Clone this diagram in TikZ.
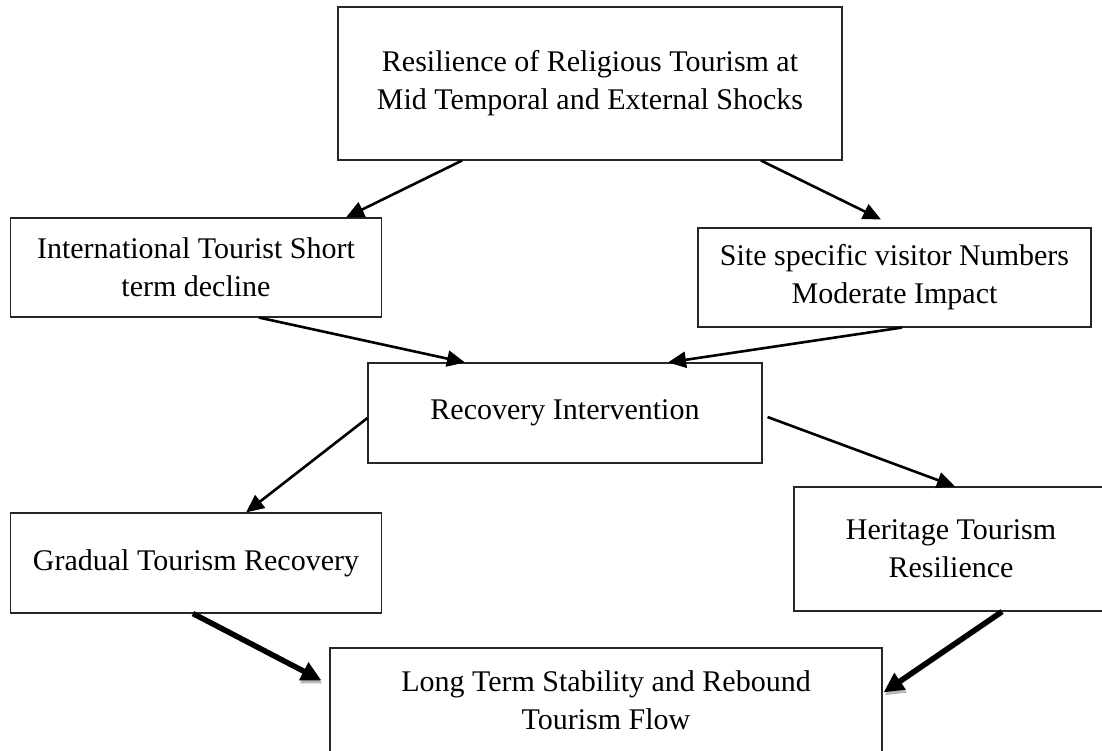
\documentclass[tikz,border=0pt]{standalone}
\usepackage{fontspec}
\setmainfont{Liberation Serif}
\usetikzlibrary{arrows.meta}
\begin{document}
\begin{tikzpicture}[x=1pt,y=-1pt,
  box/.style={draw=black!85, line width=1.1pt, rectangle, inner sep=0pt, align=center,
    font=\fontsize{30}{38}\selectfont},
  thinarrow/.style={line width=2.6pt, -{Triangle[length=18pt,width=16pt]}},
  thickarrow/.style={line width=5.5pt, -{Triangle[length=20pt,width=19pt]},
    preaction={draw=gray!55, transform canvas={xshift=1pt,yshift=-3pt}}}
]
\useasboundingbox[fill=white] (0,0) rectangle (1102,750);

\node[box, minimum width=504pt, minimum height=153pt] (top) at (590,83.5)
  {Resilience of Religious Tourism at\\Mid Temporal and External Shocks};
\node[box, minimum width=371pt, minimum height=99pt] (intl) at (196,267.5)
  {International Tourist Short\\term decline};
\node[box, minimum width=393pt, minimum height=99pt] (site) at (894.5,277.5)
  {Site specific visitor Numbers\\Moderate Impact};
\node[box, minimum width=394pt, minimum height=100pt] (mid) at (565,413)
  {Recovery Intervention};
\node[box, minimum width=371pt, minimum height=100pt] (lb) at (196,563)
  {Gradual Tourism Recovery};
\node[box, minimum width=314pt, minimum height=124pt] (rb) at (951,549)
  {Heritage Tourism\\Resilience};
\node[box, minimum width=552pt, minimum height=104pt] (bot) at (606,700)
  {Long Term Stability and Rebound\\Tourism Flow};

\draw[thinarrow] ([xshift=-128pt]top.south) -- ([xshift=150pt]intl.north);
\draw[thinarrow] ([xshift=171pt]top.south) -- ([xshift=-13.5pt,yshift=8pt]site.north);
\draw[thinarrow] ([xshift=63pt]intl.south) -- ([xshift=-100pt]mid.north);
\draw[thinarrow] ([xshift=7.5pt]site.south) -- ([xshift=103pt]mid.north);
\draw[thinarrow] ([yshift=-5pt]mid.west) -- ([xshift=50pt]lb.north);
\draw[thinarrow] ([xshift=5pt,yshift=-4pt]mid.east) -- ([xshift=4pt]rb.north);
\draw[thickarrow] ([xshift=-3pt]lb.south) -- ([xshift=-8pt,yshift=-33pt]bot.north west);
\draw[thickarrow] ([xshift=51pt]rb.south) -- ([xshift=1pt,yshift=-45pt]bot.north east);
\end{tikzpicture}
\end{document}
